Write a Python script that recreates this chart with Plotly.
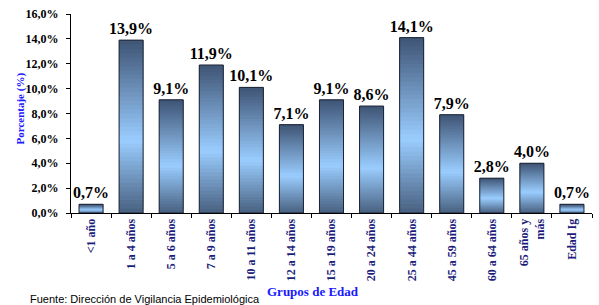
import plotly.graph_objects as go
from plotly.colors import find_intermediate_color, hex_to_rgb

categories = ["&lt;1 año", "1 a 4 años", "5 a 6 años", "7 a 9 años", "10 a 11 años",
              "12 a 14 años", "15 a 19 años", "20 a 24 años", "25 a 44 años",
              "45 a 59 años", "60 a 64 años", "65 años y<br>más", "Edad Ig"]
values = [0.7, 13.9, 9.1, 11.9, 10.1, 7.1, 9.1, 8.6, 14.1, 7.9, 2.8, 4.0, 0.7]
value_labels = ["0,7%", "13,9%", "9,1%", "11,9%", "10,1%", "7,1%", "9,1%", "8,6%",
                "14,1%", "7,9%", "2,8%", "4,0%", "0,7%"]
y_ticks = [0, 2, 4, 6, 8, 10, 12, 14, 16]
y_tick_labels = ["0,0%", "2,0%", "4,0%", "6,0%", "8,0%", "10,0%", "12,0%", "14,0%", "16,0%"]

SERIF = "Liberation Serif, Times New Roman, serif"
dark_bot = hex_to_rgb("#48607f")
light = hex_to_rgb("#9acdff")
dark_top = hex_to_rgb("#3e5474")
peak = 0.42

def grad(t):
    if t <= peak:
        c = find_intermediate_color(dark_bot, light, t / peak)
    else:
        c = find_intermediate_color(light, dark_top, (t - peak) / (1 - peak))
    return "rgb(%d,%d,%d)" % tuple(int(round(v)) for v in c)

fig = go.Figure()
N = 40
for i in range(N):
    t = (i + 0.5) / N
    span = min(3, N - i) / N
    fig.add_trace(go.Bar(
        x=categories,
        y=[v * span for v in values],
        base=[v * i / N for v in values],
        marker=dict(color=grad(t), line=dict(width=0)),
        width=0.6, hoverinfo="skip", showlegend=False,
    ))

fig.add_trace(go.Bar(
    x=categories, y=values, width=0.6,
    marker=dict(color="rgba(0,0,0,0)", line=dict(color="#1b2233", width=1)),
    text=value_labels, textposition="outside", constraintext="none",
    textfont=dict(family=SERIF, size=16, color="black", weight="bold"),
    cliponaxis=False, showlegend=False,
))

fig.update_layout(
    barmode="overlay",
    width=599, height=305,
    margin=dict(l=71, r=7, t=14, b=92),
    paper_bgcolor="white", plot_bgcolor="white",
    xaxis=dict(
        type="category", showline=True, linecolor="black", linewidth=1,
        ticks="outside", tickson="boundaries", ticklen=4, tickcolor="black",
        tickangle=-90, showgrid=False, automargin=False,
        tickfont=dict(family=SERIF, size=12, color="#1c1c7a", weight="bold"),
    ),
    yaxis=dict(
        range=[0, 16], tickvals=y_ticks, ticktext=y_tick_labels,
        showline=True, linecolor="black", linewidth=1,
        ticks="outside", ticklen=4, tickcolor="black", showgrid=False,
        zeroline=False, automargin=False, ticklabelstandoff=5,
        tickfont=dict(family=SERIF, size=12, color="black", weight="bold"),
    ),
    annotations=[
        dict(text="<b>Porcentaje (%)</b>", textangle=-90, xref="paper", yref="paper",
             x=-71 / 521 + 19.5 / 521, y=(213 - 108) / 199, xanchor="center", yanchor="middle",
             showarrow=False, font=dict(family=SERIF, size=11, color="#1a1aff")),
        dict(text="<b>Grupos de Edad</b>", xref="paper", yref="paper",
             x=(313 - 71) / 521, y=-(291 - 213) / 199, xanchor="center", yanchor="middle",
             showarrow=False, font=dict(family=SERIF, size=13, color="#1a1aff")),
        dict(text="Fuente: Dirección de Vigilancia Epidemiológica", xref="paper", yref="paper",
             x=(28 - 71) / 521, y=-(299 - 213) / 199, xanchor="left", yanchor="middle",
             showarrow=False, font=dict(family="Liberation Sans, Arial, sans-serif", size=11, color="black")),
    ],
)
fig.write_html("out.html", config={"displayModeBar": False},
               post_script="document.body.style.margin='0';")
